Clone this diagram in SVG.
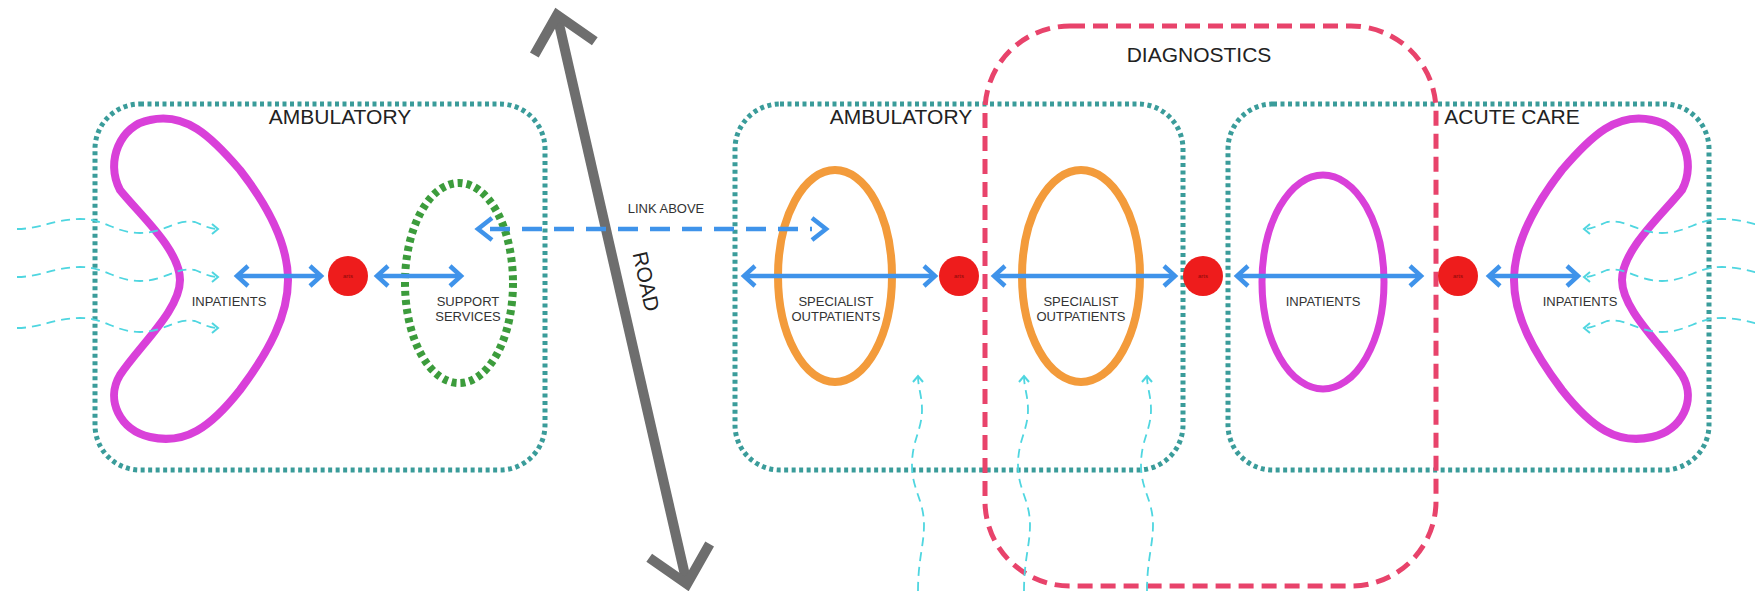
<svg xmlns="http://www.w3.org/2000/svg" width="1755" height="591" viewBox="0 0 1755 591">
<style>
.zone{fill:none;stroke:#3a9c9a;stroke-width:5;stroke-dasharray:4 3.5}
.diag{fill:none;stroke:#e8436b;stroke-width:5;stroke-dasharray:15 8}
.kid{fill:none;stroke:#d940d9;stroke-width:8}
.orng{fill:none;stroke:#f39b3b;stroke-width:8}
.mag{fill:none;stroke:#d940d9;stroke-width:7}
.sup{fill:none;stroke:#3c9c3c;stroke-width:8;stroke-dasharray:5 4}
.hub{fill:#ee1c1c}
.hubt{font-family:"Liberation Sans",Arial,sans-serif;font-size:6px;fill:#8a0a0a;text-anchor:middle}
.blue{fill:none;stroke:#3f93ea;stroke-width:4.5;marker-start:url(#bh);marker-end:url(#bh)}
.link{fill:none;stroke:#3f93ea;stroke-width:4.5;stroke-dasharray:20 12}
.cy{fill:none;stroke:#4fd6e0;stroke-width:1.8;stroke-dasharray:9 6;marker-end:url(#ch)}
.title{font-family:"Liberation Sans",Arial,sans-serif;font-size:21px;fill:#222;text-anchor:middle}
.lbl{font-family:"Liberation Sans",Arial,sans-serif;font-size:13px;fill:#333;text-anchor:middle}
</style>
<defs>
<marker id="bh" viewBox="0 0 24 24" refX="20" refY="12" markerWidth="24" markerHeight="24" markerUnits="userSpaceOnUse" orient="auto-start-reverse">
<path d="M9,2 L20,12 L9,22" fill="none" stroke="#3f93ea" stroke-width="4.5"/>
</marker>
<marker id="ch" viewBox="0 0 12 12" refX="9" refY="6" markerWidth="12" markerHeight="12" markerUnits="userSpaceOnUse" orient="auto">
<path d="M3,1 L9,6 L3,11" fill="none" stroke="#4fd6e0" stroke-width="2"/>
</marker>
<marker id="rh" viewBox="-50 -40 60 80" refX="0" refY="0" markerWidth="60" markerHeight="80" markerUnits="userSpaceOnUse" orient="auto-start-reverse">
<path d="M-34,-31 L0,0 L-34,31" fill="none" stroke="#6e6e6e" stroke-width="10"/>
</marker>
<path id="kidney" d="M150,120 C185,112 210,135 240,170 C275,215 288,250 288,280 C288,315 270,350 240,390 C210,428 185,445 150,437 C120,430 105,400 120,375 C140,345 180,310 180,280 C180,250 140,215 120,190 C105,162 120,125 150,120 Z"/>
</defs>

<g id="zone-ambulatory-left">
<rect class="zone" x="95" y="104" width="450" height="366" rx="45"/>
<text class="title" x="340" y="124">AMBULATORY</text>
</g>
<g id="zone-ambulatory-mid">
<rect class="zone" x="735" y="104" width="448" height="366" rx="45"/>
<text class="title" x="901" y="124">AMBULATORY</text>
</g>
<g id="zone-acute">
<rect class="zone" x="1228" y="104" width="481" height="366" rx="45"/>
<text class="title" x="1512" y="124">ACUTE CARE</text>
</g>
<g id="zone-diagnostics">
<rect class="diag" x="985" y="26" width="451" height="560" rx="85"/>
<text class="title" x="1199" y="62">DIAGNOSTICS</text>
</g>

<g id="road">
<line x1="557" y1="15" x2="687" y2="584" stroke="#6e6e6e" stroke-width="10" marker-start="url(#rh)" marker-end="url(#rh)"/>
<text class="title" x="0" y="0" transform="translate(639,283) rotate(77.5)" font-size="21">ROAD</text>
</g>

<g id="inpatients-left">
<use href="#kidney" class="kid"/>
<text class="lbl" x="229" y="306">INPATIENTS</text>
</g>
<g id="support-services">
<ellipse class="sup" cx="459" cy="283" rx="54" ry="100"/>
<text class="lbl" x="468" y="306">SUPPORT</text>
<text class="lbl" x="468" y="321">SERVICES</text>
</g>
<g id="specialist-outpatients-1">
<ellipse class="orng" cx="835" cy="276" rx="57" ry="106"/>
<text class="lbl" x="836" y="306">SPECIALIST</text>
<text class="lbl" x="836" y="321">OUTPATIENTS</text>
</g>
<g id="specialist-outpatients-2">
<ellipse class="orng" cx="1081" cy="276" rx="59" ry="106"/>
<text class="lbl" x="1081" y="306">SPECIALIST</text>
<text class="lbl" x="1081" y="321">OUTPATIENTS</text>
</g>
<g id="inpatients-mid">
<ellipse class="mag" cx="1323" cy="282" rx="61" ry="107"/>
<text class="lbl" x="1323" y="306">INPATIENTS</text>
</g>
<g id="inpatients-right">
<use href="#kidney" class="kid" transform="translate(1802,0) scale(-1,1)"/>
<text class="lbl" x="1580" y="306">INPATIENTS</text>
</g>

<g id="hub-1"><circle class="hub" cx="348" cy="276" r="20"/><text class="hubt" x="348" y="278">arts</text></g>
<g id="hub-2"><circle class="hub" cx="959" cy="276" r="20"/><text class="hubt" x="959" y="278">arts</text></g>
<g id="hub-3"><circle class="hub" cx="1203" cy="276" r="20"/><text class="hubt" x="1203" y="278">arts</text></g>
<g id="hub-4"><circle class="hub" cx="1458" cy="276" r="20"/><text class="hubt" x="1458" y="278">arts</text></g>

<g id="connectors">
<line class="blue" x1="237" y1="276" x2="321" y2="276"/>
<line class="blue" x1="377" y1="276" x2="461" y2="276"/>
<line class="blue" x1="744" y1="276" x2="935" y2="276"/>
<line class="blue" x1="994" y1="276" x2="1175" y2="276"/>
<line class="blue" x1="1237" y1="276" x2="1421" y2="276"/>
<line class="blue" x1="1489" y1="276" x2="1578" y2="276"/>
<line class="link" x1="490" y1="229" x2="812" y2="229"/>
<path d="M492,218 L478,229 L492,240" fill="none" stroke="#3f93ea" stroke-width="4.5"/>
<path d="M812,218 L826,229 L812,240" fill="none" stroke="#3f93ea" stroke-width="4.5"/>
<text class="lbl" x="666" y="213" font-size="12.5">LINK ABOVE</text>
<g id="flows-left">
<path class="cy" d="M17,229 C40,229 55,219 80,219 C105,219 115,233 140,233 C165,233 175,219 195,222 C205,226 210,229 218,229"/>
<path class="cy" d="M17,277 C40,277 55,267 80,267 C105,267 115,281 140,281 C165,281 175,267 195,270 C205,274 210,277 218,277"/>
<path class="cy" d="M17,328 C40,328 55,318 80,318 C105,318 115,332 140,332 C165,332 175,318 195,321 C205,325 210,328 218,328"/>
</g>
<g id="flows-right" transform="translate(1802,0) scale(-1,1)">
<path class="cy" d="M17,229 C40,229 55,219 80,219 C105,219 115,233 140,233 C165,233 175,219 195,222 C205,226 210,229 218,229"/>
<path class="cy" d="M17,277 C40,277 55,267 80,267 C105,267 115,281 140,281 C165,281 175,267 195,270 C205,274 210,277 218,277"/>
<path class="cy" d="M17,328 C40,328 55,318 80,318 C105,318 115,332 140,332 C165,332 175,318 195,321 C205,325 210,328 218,328"/>
</g>
<g id="flows-bottom">
<path class="cy" d="M918,591 C918,560 924,545 924,525 C924,500 912,490 912,465 C912,440 922,430 922,410 C922,395 918,388 918,376"/>
<path class="cy" d="M1024,591 C1024,560 1030,545 1030,525 C1030,500 1018,490 1018,465 C1018,440 1028,430 1028,410 C1028,395 1024,388 1024,376"/>
<path class="cy" d="M1147,591 C1147,560 1153,545 1153,525 C1153,500 1141,490 1141,465 C1141,440 1151,430 1151,410 C1151,395 1147,388 1147,376"/>
</g>
</g>
</svg>
